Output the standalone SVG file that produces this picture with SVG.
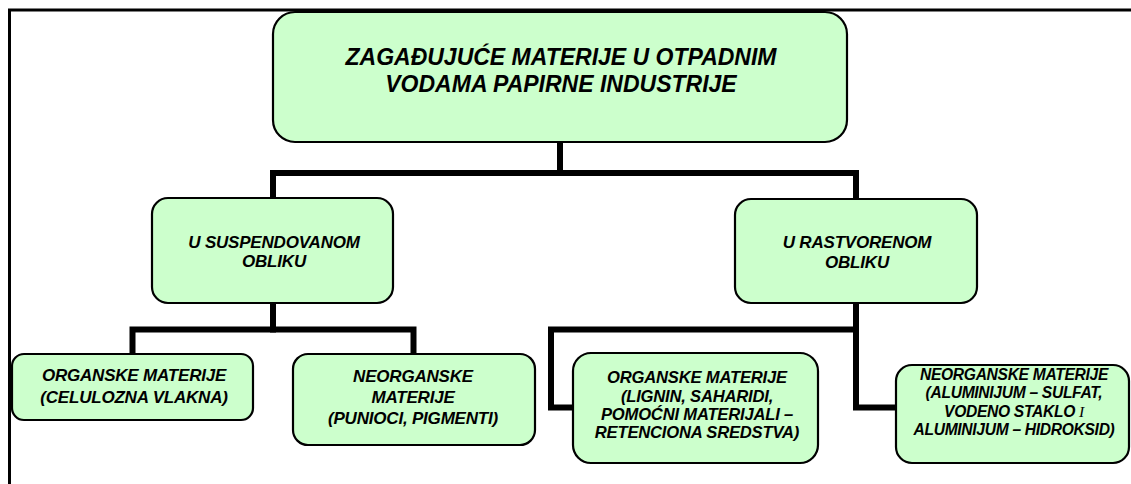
<svg xmlns="http://www.w3.org/2000/svg" width="1131" height="484" viewBox="0 0 1131 484">
<style>
.box{fill:#CCFFCC;stroke:#000;stroke-width:2.2}
.t{font-family:"Liberation Sans",Arial,sans-serif;font-weight:bold;font-style:italic;fill:#000;text-anchor:middle}
.t1{font-size:23px}
.t2{font-size:17px;letter-spacing:-0.2px}
.t3{font-size:16.6px;letter-spacing:-0.2px}
.t4{font-size:15.6px;letter-spacing:-0.3px}
.con{fill:none;stroke:#000;stroke-width:6;stroke-linejoin:miter;stroke-linecap:square}
.frame{fill:none;stroke:#000;stroke-width:3}
</style>
<rect width="1131" height="484" fill="#fff"/>
<path class="frame" d="M9.5 484 V10 H1131"/>
<g id="connectors">
<polyline class="con" points="560,143 560,173"/>
<polyline class="con" points="273,197 273,173 856,173 856,198"/>
<polyline class="con" points="273,304 273,329.5"/>
<polyline class="con" points="132.5,353 132.5,329.5 413.5,329.5 413.5,353"/>
<polyline class="con" points="572,407.5 551,407.5 551,329.5 856,329.5"/>
<polyline class="con" points="856,304 856,407.5 895,407.5"/>
</g>
<g id="root">
<rect class="box" x="273" y="12" width="574" height="130" rx="22"/>
<text class="t t1" x="561" y="65">ZAGAĐUJUĆE MATERIJE U OTPADNIM</text>
<text class="t t1" x="561" y="92">VODAMA PAPIRNE INDUSTRIJE</text>
</g>
<g id="suspendovano">
<rect class="box" x="152" y="198" width="241" height="105" rx="16"/>
<text class="t t2" x="274" y="248">U SUSPENDOVANOM</text>
<text class="t t2" x="274" y="267">OBLIKU</text>
</g>
<g id="rastvoreno">
<rect class="box" x="735" y="199" width="242" height="104" rx="16"/>
<text class="t t2" x="857" y="248">U RASTVORENOM</text>
<text class="t t2" x="857" y="268">OBLIKU</text>
</g>
<g id="organske1">
<rect class="box" x="12" y="354" width="241" height="66" rx="12"/>
<text class="t t2" x="134" y="381">ORGANSKE MATERIJE</text>
<text class="t t2" x="134" y="403">(CELULOZNA VLAKNA)</text>
</g>
<g id="neorganske1">
<rect class="box" x="293" y="354" width="242" height="91" rx="15"/>
<text class="t t2" x="413" y="382">NEORGANSKE</text>
<text class="t t2" x="413" y="403">MATERIJE</text>
<text class="t t2" x="413" y="423.5">(PUNIOCI, PIGMENTI)</text>
</g>
<g id="organske2">
<rect class="box" x="573" y="353" width="245" height="110" rx="18"/>
<text class="t t3" x="697" y="383">ORGANSKE MATERIJE</text>
<text class="t t3" x="697" y="401.5">(LIGNIN, SAHARIDI,</text>
<text class="t t3" x="697" y="420">POMOĆNI MATERIJALI –</text>
<text class="t t3" x="697" y="438">RETENCIONA SREDSTVA)</text>
</g>
<g id="neorganske2">
<rect class="box" x="896" y="365" width="233" height="98" rx="16"/>
<text class="t t4" x="1014" y="380">NEORGANSKE MATERIJE</text>
<text class="t t4" x="1014" y="398">(ALUMINIJUM – SULFAT,</text>
<text class="t t4" x="1014" y="416.5">VODENO STAKLO <tspan style="font-family:'Liberation Serif',serif;font-weight:normal">I</tspan></text>
<text class="t t4" x="1014" y="435">ALUMINIJUM – HIDROKSID)</text>
</g>
</svg>
